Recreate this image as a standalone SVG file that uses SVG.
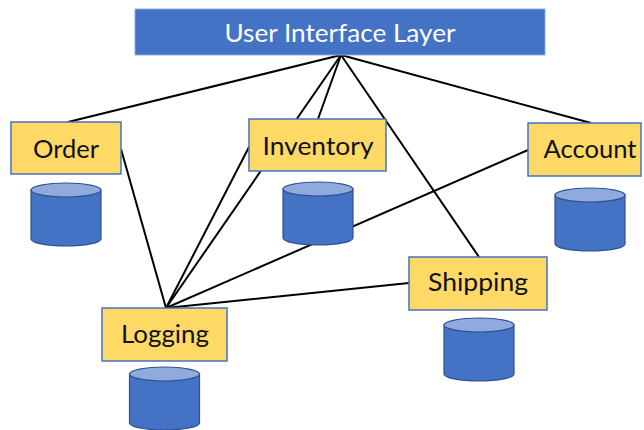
<svg xmlns="http://www.w3.org/2000/svg" width="644" height="430" viewBox="0 0 644 430">
<style>
.box{fill:#FFD966;stroke:#4472C4;stroke-width:1.5}
.lbl{font-family:Lato,"Open Sans","Liberation Sans",sans-serif;font-size:25px;fill:#111}
.cb{fill:#4472C4;stroke:#2F528F;stroke-width:1.2}
.ct{fill:#8FAADC;stroke:#2F528F;stroke-width:1.2}
.ln{stroke:#000;stroke-width:2;fill:none}
</style>
<defs>
<g id="cyl">
<path class="cb" d="M-35,0 L-35,49 A35,7 0 0 0 35,49 L35,0 Z"/>
<ellipse class="ct" cx="0" cy="0" rx="35" ry="7"/>
</g>
</defs>
<rect width="644" height="430" fill="#fff"/>
<g id="connectors">
<line class="ln" x1="341" y1="55" x2="68" y2="122"/>
<line class="ln" x1="341" y1="55" x2="318" y2="119"/>
<line class="ln" x1="341" y1="55" x2="166" y2="308"/>
<line class="ln" x1="341" y1="55" x2="479" y2="257"/>
<line class="ln" x1="341" y1="55" x2="591" y2="123"/>
<line class="ln" x1="121" y1="149" x2="166" y2="308"/>
<line class="ln" x1="249" y1="147" x2="166" y2="308"/>
<line class="ln" x1="528" y1="150" x2="166" y2="308"/>
<line class="ln" x1="409" y1="283" x2="166" y2="308"/>
</g>
<g id="ui">
<rect x="135" y="9" width="410" height="46" fill="#4472C4" stroke="#8FAADC" stroke-width="1"/>
<text x="340" y="42" text-anchor="middle" textLength="231" lengthAdjust="spacingAndGlyphs" class="lbl" style="fill:#fff">User Interface Layer</text>
</g>
<g id="order">
<rect class="box" x="11" y="122" width="110" height="52"/>
<text class="lbl" x="66" y="158" text-anchor="middle" textLength="66" lengthAdjust="spacingAndGlyphs">Order</text>
<use href="#cyl" x="66" y="190"/>
</g>
<g id="inventory">
<rect class="box" x="249" y="119" width="137" height="52"/>
<text class="lbl" x="318" y="155" text-anchor="middle" textLength="111" lengthAdjust="spacingAndGlyphs">Inventory</text>
<use href="#cyl" x="318" y="189"/>
</g>
<g id="account">
<rect class="box" x="528" y="123" width="113" height="53"/>
<text class="lbl" x="590" y="158" text-anchor="middle" textLength="93" lengthAdjust="spacingAndGlyphs">Account</text>
<use href="#cyl" x="590" y="195"/>
</g>
<g id="shipping">
<rect class="box" x="409" y="257" width="138" height="53"/>
<text class="lbl" x="478" y="291" text-anchor="middle" textLength="100" lengthAdjust="spacingAndGlyphs">Shipping</text>
<use href="#cyl" x="479" y="325"/>
</g>
<g id="logging">
<rect class="box" x="102" y="308" width="125" height="53"/>
<text class="lbl" x="165" y="343" text-anchor="middle" textLength="88" lengthAdjust="spacingAndGlyphs">Logging</text>
<use href="#cyl" x="164.5" y="374"/>
</g>
</svg>
